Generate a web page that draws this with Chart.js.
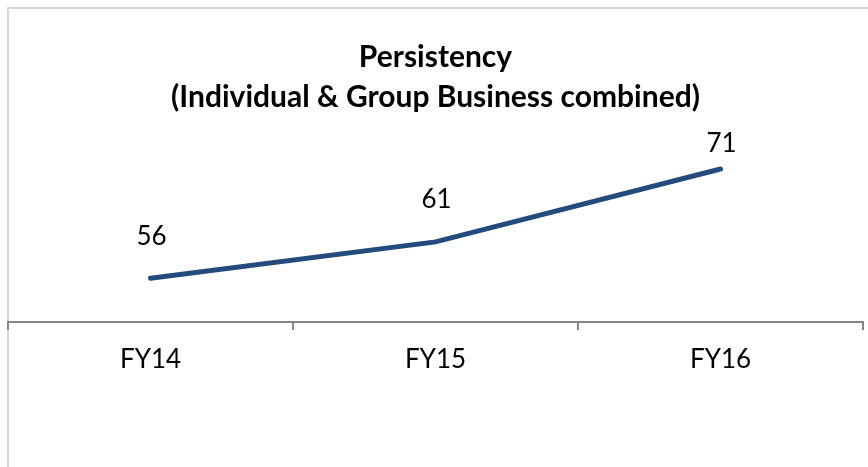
<!DOCTYPE html>
<html>
<head>
<meta charset="utf-8">
<script src="https://cdn.jsdelivr.net/npm/chart.js@4/dist/chart.umd.min.js"></script>
<style>
html,body{margin:0;padding:0;background:#fff;}
#wrap{position:relative;width:868px;height:467px;}
</style>
</head>
<body>
<div id="wrap"><canvas id="c" width="868" height="467"></canvas></div>
<script>
const categories = ['FY14', 'FY15', 'FY16'];
const persistency = [56, 61, 71];
const titleLines = ['Persistency', '(Individual & Group Business combined)'];

const FONT = 'Lato, "Open Sans", sans-serif';

const frame = {
  id: 'frame',
  beforeDraw(chart) {
    const ctx = chart.ctx;
    ctx.save();
    ctx.fillStyle = '#ffffff';
    ctx.fillRect(0, 0, chart.width, chart.height);
    ctx.strokeStyle = '#d9d9d9';
    ctx.lineWidth = 2;
    ctx.beginPath();
    ctx.moveTo(8, chart.height);
    ctx.lineTo(8, 8);
    ctx.lineTo(chart.width, 8);
    ctx.stroke();
    ctx.restore();
  }
};

const valueLabels = {
  id: 'valueLabels',
  afterDatasetsDraw(chart) {
    const ctx = chart.ctx;
    const meta = chart.getDatasetMeta(0);
    const top = chart.chartArea.top;
    ctx.save();
    ctx.font = '26px ' + FONT;
    ctx.fillStyle = '#000';
    ctx.textAlign = 'center';
    ctx.textBaseline = 'middle';
    meta.data.forEach((pt, i) => {
      const y = Math.max(pt.y - 42, top + 26);
      ctx.fillText(String(persistency[i]), pt.x + 1, y);
    });
    ctx.restore();
  }
};

new Chart(document.getElementById('c'), {
  type: 'line',
  data: {
    labels: categories,
    datasets: [{
      data: persistency,
      borderColor: '#234b7e',
      borderWidth: 5,
      pointRadius: 0,
      tension: 0,
      borderCapStyle: 'round'
    }]
  },
  options: {
    responsive: false,
    animation: false,
    layout: { padding: { left: 8, right: 5, bottom: 0, top: 0 } },
    plugins: {
      legend: { display: false },
      tooltip: { enabled: false },
      title: {
        display: true,
        text: titleLines,
        color: '#000',
        font: { family: FONT, size: 30, weight: 'bold', lineHeight: '40px' },
        padding: { top: 37, bottom: 1 }
      }
    },
    scales: {
      x: {
        offset: true,
        grid: {
          offset: true,
          drawOnChartArea: false,
          drawTicks: true,
          tickLength: 8,
          color: '#868686',
          lineWidth: 2
        },
        border: { display: true, color: '#868686', width: 2 },
        ticks: {
          color: '#000',
          font: { family: FONT, size: 26 },
          padding: 14
        },
        afterFit(scale) { scale.height = 467 - 322; }
      },
      y: {
        display: false,
        min: 50,
        max: 78
      }
    }
  },
  plugins: [frame, valueLabels]
});
</script>
</body>
</html>
